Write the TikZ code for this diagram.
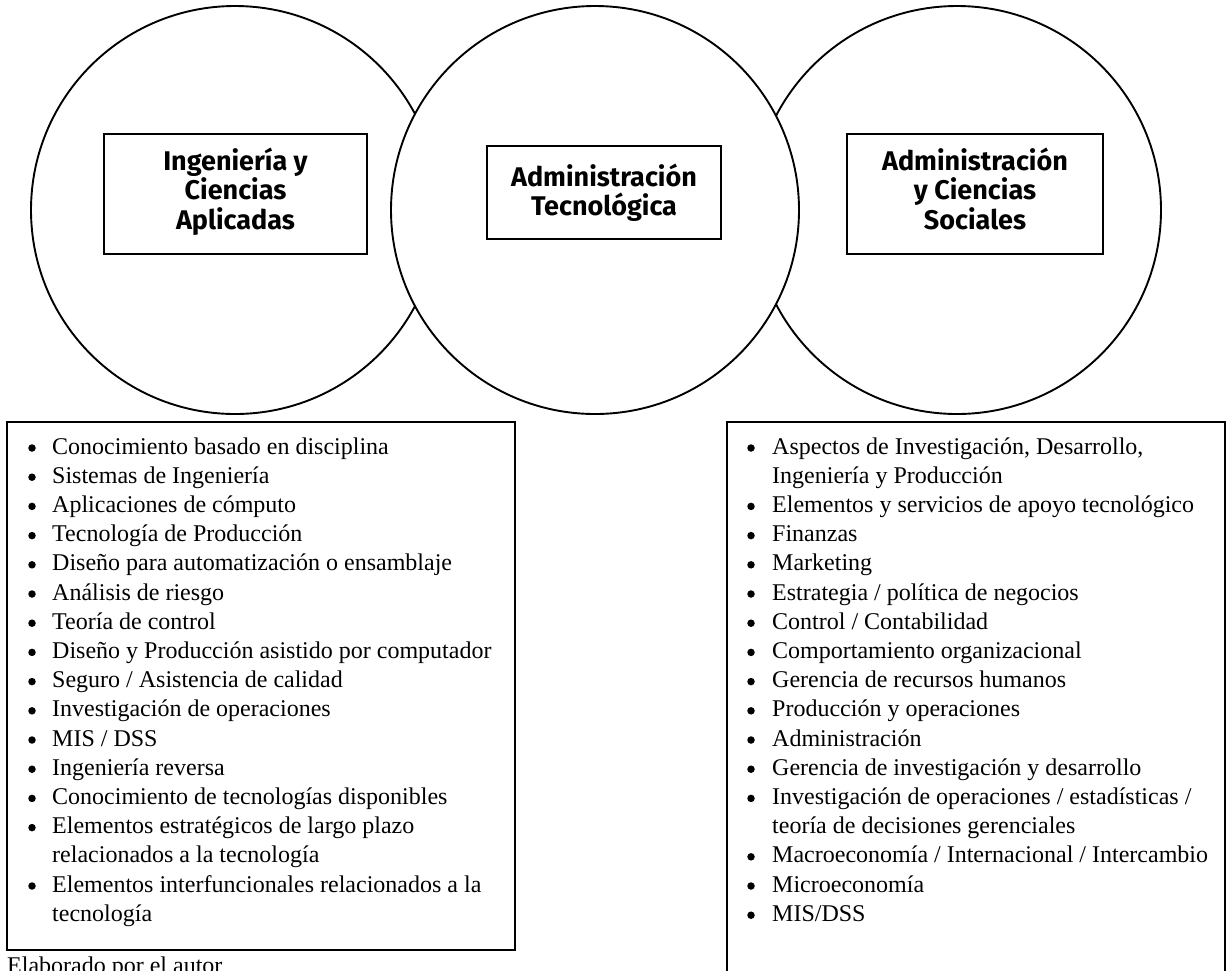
\documentclass[tikz,border=0pt]{standalone}
\usepackage{fontspec}
\setmainfont{Liberation Serif}
\newfontfamily\lblfont{Fira Sans}
\begin{document}
\begin{tikzpicture}[x=1pt,y=-1pt,
  ring/.style={draw, line width=1.9pt, circle, minimum size=408pt, inner sep=0pt, fill=white},
  frame/.style={draw, line width=1.9pt, rectangle, inner sep=0pt},
  lbl/.style={anchor=base, inner sep=0pt, font=\lblfont\bfseries\fontsize{27}{27}\selectfont},
  itm/.style={anchor=base west, inner sep=0pt, font=\fontsize{24}{29}\selectfont},
  bul/.style={circle, fill=black, inner sep=0pt, minimum size=7.5pt}]
\useasboundingbox (0,0) rectangle (1231,970);
\clip (0,0) rectangle (1231,970);
\fill[white] (0,0) rectangle (1231,970);

% circles
\node[ring] (cL) at (235,210) {};
\node[ring] (cR) at (957,210) {};
\node[ring] (cM) at (595,210) {};

% label boxes
\node[frame, minimum width=263pt, minimum height=120pt] (bL) at (235.5,194) {};
\node[frame, minimum width=234pt, minimum height=93pt] (bM) at (604,192.5) {};
\node[frame, minimum width=256pt, minimum height=120pt] (bR) at (975,194) {};

\node[lbl] (tL1) at (235.5,170) {Ingeniería y};
\node[lbl] (tL2) at (235.5,199.5) {Ciencias};
\node[lbl] (tL3) at (235.5,229) {Aplicadas};
\node[lbl] (tM1) at (604,186) {Administración};
\node[lbl] (tM2) at (604,215) {Tecnológica};
\node[lbl] (tR1) at (975,170) {Administración};
\node[lbl] (tR2) at (975,199.5) {y Ciencias};
\node[lbl] (tR3) at (975,229) {Sociales};

% list boxes
\node[frame, minimum width=508pt, minimum height=528pt] (lbox) at (261,686) {};
\node[frame, minimum width=498pt, minimum height=600pt] (rbox) at (976,722) {};

\foreach \flag/\txt [count=\i from 0] in {
  1/{Conocimiento basado en disciplina},
  1/{Sistemas de Ingeniería},
  1/{Aplicaciones de cómputo},
  1/{Tecnología de Producción},
  1/{Diseño para automatización o ensamblaje},
  1/{Análisis de riesgo},
  1/{Teoría de control},
  1/{Diseño y Producción asistido por computador},
  1/{Seguro / Asistencia de calidad},
  1/{Investigación de operaciones},
  1/{MIS / DSS},
  1/{Ingeniería reversa},
  1/{Conocimiento de tecnologías disponibles},
  1/{Elementos estratégicos de largo plazo},
  0/{relacionados a la tecnología},
  1/{Elementos interfuncionales relacionados a la},
  0/{tecnología}}{
  \node[itm] (L\i) at (52,{454+29.2*\i}) {\txt};
  \ifnum\flag=1 \node[bul] (LB\i) at (32,{448+29.2*\i}) {}; \fi
}

\foreach \flag/\txt [count=\i from 0] in {
  1/{Aspectos de Investigación, Desarrollo,},
  0/{Ingeniería y Producción},
  1/{Elementos y servicios de apoyo tecnológico},
  1/{Finanzas},
  1/{Marketing},
  1/{Estrategia / política de negocios},
  1/{Control / Contabilidad},
  1/{Comportamiento organizacional},
  1/{Gerencia de recursos humanos},
  1/{Producción y operaciones},
  1/{Administración},
  1/{Gerencia de investigación y desarrollo},
  1/{Investigación de operaciones / estadísticas /},
  0/{teoría de decisiones gerenciales},
  1/{Macroeconomía / Internacional / Intercambio},
  1/{Microeconomía},
  1/{MIS/DSS}}{
  \node[itm] (R\i) at (772,{454+29.2*\i}) {\txt};
  \ifnum\flag=1 \node[bul] (RB\i) at (751,{448+29.2*\i}) {}; \fi
}

\node[itm] (foot) at (7,973) {Elaborado por el autor};
\end{tikzpicture}
\end{document}
